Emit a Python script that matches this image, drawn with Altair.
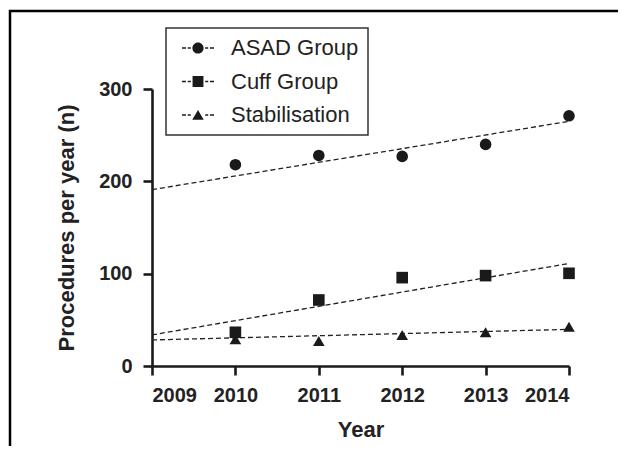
import altair as alt
import pandas as pd

# ---- data ----
years = [2010, 2011, 2012, 2013, 2014]
groups = ["ASAD Group", "Cuff Group", "Stabilisation"]
asad = [218, 228, 227, 240, 271]
cuff = [36.5, 71.5, 95.7, 97.9, 100.4]
stab = [29, 27, 33.6, 36.5, 42.6]

trend_years = [2009, 2014]
trend_asad = [191, 265]
trend_cuff = [33.7, 111]
trend_stab = [28.2, 39.7]

series = {"ASAD Group": asad, "Cuff Group": cuff, "Stabilisation": stab}
trends = {"ASAD Group": trend_asad, "Cuff Group": trend_cuff, "Stabilisation": trend_stab}

pts = pd.DataFrame(
    [{"year": y, "value": v, "group": g} for g in groups for y, v in zip(years, series[g])]
)
tr = pd.DataFrame(
    [{"year": y, "value": v, "group": g} for g in groups for y, v in zip(trend_years, trends[g])]
)

INK = "#1a1a1a"
FONT = "Liberation Sans"

x_enc = alt.X(
    "year:Q",
    scale=alt.Scale(domain=[2009, 2014], nice=False, zero=False),
    axis=alt.Axis(values=[2009, 2010, 2011, 2012, 2013, 2014], format="d", title="Year"),
)
y_enc = alt.Y(
    "value:Q",
    scale=alt.Scale(domain=[0, 300], nice=False),
    axis=alt.Axis(values=[0, 100, 200, 300], title="Procedures per year (n)"),
)

# legend symbols: dashes + marker (custom paths in unit square)
dashes = ("M-1,-0.045H-0.75V0.045H-1Z M-0.64,-0.045H-0.45V0.045H-0.64Z "
          "M0.45,-0.045H0.64V0.045H0.45Z M0.75,-0.045H1V0.045H0.75Z ")
circ = "M-0.35,0A0.35,0.35 0 1,0 0.35,0A0.35,0.35 0 1,0 -0.35,0Z"
sq = "M-0.34,-0.34H0.34V0.34H-0.34Z"
tri = "M0,-0.31L0.36,0.3L-0.36,0.3Z"
legend_shapes = [dashes + circ, dashes + sq, dashes + tri]

border = alt.Chart(alt.Data(values=[{}])).mark_rect(
    fillOpacity=0, stroke="#000", strokeWidth=2.5
).encode(
    x=alt.value(-142), x2=alt.value(520), y=alt.value(-78), y2=alt.value(420)
)

lines = alt.Chart(tr).mark_line(
    strokeDash=[5, 3], strokeWidth=1.3, color="#222"
).encode(x=x_enc, y=y_enc, detail="group:N")

points = alt.Chart(pts).mark_point(
    filled=True, opacity=1, color=INK, size=135
).encode(
    x=x_enc,
    y=y_enc,
    shape=alt.Shape(
        "group:N",
        scale=alt.Scale(domain=groups, range=["circle", "square", "triangle-up"]),
        legend=None,
    ),
)

legend_layer = alt.Chart(pts).mark_point(
    filled=True, opacity=0, color=INK
).encode(
    x=x_enc,
    y=y_enc,
    shape=alt.Shape(
        "group:N",
        scale=alt.Scale(domain=groups, range=legend_shapes),
        legend=alt.Legend(
            title=None,
            orient="none",
            legendX=14,
            legendY=-61,
            symbolSize=1024,
            symbolOpacity=1,
            symbolStrokeWidth=0,
            symbolFillColor=INK,
            symbolOffset=7,
            clipHeight=22,
            rowPadding=11.5,
            padding=9,
            labelOffset=17,
            labelFont=FONT,
            labelFontSize=22,
            labelColor="#222",
            labelLimit=400,
            fillColor="white",
            strokeColor="#333",
        ),
    ),
)

chart = alt.layer(border, lines, points, legend_layer).resolve_scale(
    shape="independent"
).properties(
    width=417,
    height=277,
    autosize=alt.AutoSizeParams(type="none"),
    padding={"left": 144, "top": 81, "right": 49, "bottom": 80},
).configure_view(
    strokeWidth=0
).configure_axis(
    grid=False,
    domainColor=INK,
    domainWidth=2.6,
    tickColor=INK,
    tickWidth=2.6,
    tickSize=9,
    labelFont=FONT,
    labelFontSize=20,
    labelFontWeight="bold",
    labelColor="#222",
    titleFont=FONT,
    titleFontSize=22,
    titleFontWeight="bold",
    titleColor="#222",
).configure_axisY(
    labelPadding=11,
    titlePadding=20
).configure_axisX(
    labelPadding=10,
    titlePadding=14
).configure_legend(
    strokeWidth=1.5
)

chart.save("out.html", embed_options={"renderer": "svg", "actions": False})
